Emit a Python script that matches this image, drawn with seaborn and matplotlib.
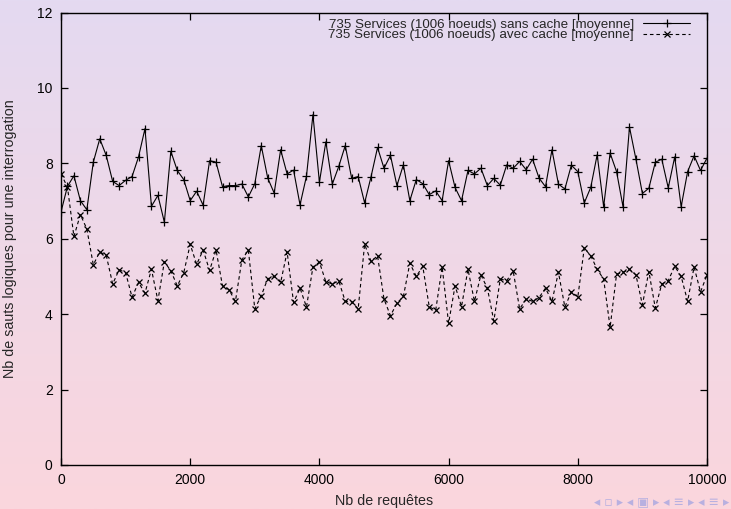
import numpy as np
import pandas as pd
import matplotlib
matplotlib.use("Agg")
import matplotlib.pyplot as plt
import seaborn as sns

requests = list(range(0, 10001, 100))

sans_cache = [
    6.71, 7.39, 7.67, 7.01, 6.77, 8.03, 8.65, 8.21, 7.52, 7.41,
    7.55, 7.65, 8.17, 8.92, 6.86, 7.15, 6.44, 8.32, 7.81, 7.57,
    7.01, 7.26, 6.89, 8.07, 8.03, 7.38, 7.41, 7.41, 7.45, 7.11,
    7.46, 8.47, 7.61, 7.21, 8.36, 7.72, 7.82, 6.90, 7.66, 9.29,
    7.50, 8.57, 7.45, 7.92, 8.47, 7.60, 7.65, 6.95, 7.65, 8.42,
    7.87, 8.21, 7.41, 7.96, 7.01, 7.57, 7.46, 7.17, 7.27, 7.01,
    8.07, 7.36, 7.01, 7.81, 7.72, 7.87, 7.41, 7.60, 7.42, 7.96,
    7.87, 8.05, 7.83, 8.11, 7.61, 7.38, 8.36, 7.45, 7.32, 7.95,
    7.78, 6.95, 7.36, 8.23, 6.85, 8.27, 7.78, 6.85, 8.96, 8.11,
    7.20, 7.34, 8.03, 8.11, 7.35, 8.17, 6.85, 7.78, 8.20, 7.81,
    8.14,
]

avec_cache = [
    7.72, 7.37, 6.06, 6.64, 6.26, 5.31, 5.65, 5.56, 4.80, 5.18,
    5.10, 4.45, 4.84, 4.56, 5.19, 4.36, 5.39, 5.15, 4.75, 5.10,
    5.85, 5.32, 5.70, 5.16, 5.70, 4.75, 4.65, 4.34, 5.44, 5.70,
    4.14, 4.49, 4.94, 5.00, 4.84, 5.65, 4.31, 4.69, 4.19, 5.25,
    5.38, 4.86, 4.80, 4.88, 4.34, 4.33, 4.14, 5.85, 5.40, 5.55,
    4.40, 3.96, 4.29, 4.47, 5.35, 5.00, 5.27, 4.20, 4.10, 5.25,
    3.76, 4.75, 4.20, 5.19, 4.34, 5.04, 4.69, 3.82, 4.93, 4.89,
    5.14, 4.14, 4.40, 4.34, 4.44, 4.69, 4.34, 5.11, 4.19, 4.59,
    4.45, 5.75, 5.55, 5.19, 4.93, 3.65, 5.06, 5.11, 5.19, 5.04,
    4.25, 5.13, 4.16, 4.80, 4.89, 5.27, 5.00, 4.34, 5.25, 4.59,
    5.04,
]

label_sans = "735 Services (1006 noeuds) sans cache [moyenne]"
label_avec = "735 Services (1006 noeuds) avec cache [moyenne]"
x_ticks = [0, 2000, 4000, 6000, 8000, 10000]
y_ticks = [0, 2, 4, 6, 8, 10, 12]

sns.set_style("ticks")
plt.rcParams["font.family"] = ["Liberation Sans", "DejaVu Sans"]

W, H = 731, 509
fig = plt.figure(figsize=(W / 100, H / 100), dpi=100)

# Beamer-like gradient background
bg = fig.add_axes([0, 0, 1, 1], zorder=-10)
top = np.array([228, 218, 241]) / 255.0
bot = np.array([251, 214, 221]) / 255.0
t = np.linspace(0, 1, 256)[:, None]
grad = (top[None, :] * (1 - t) + bot[None, :] * t)[:, None, :]
bg.imshow(grad, aspect="auto", extent=[0, 1, 0, 1], origin="upper")
bg.set_axis_off()

ax = fig.add_axes([61 / W, 44 / H, 646 / W, 452.5 / H])
ax.patch.set_alpha(0)

df1 = pd.DataFrame({"x": requests, "y": sans_cache})
df2 = pd.DataFrame({"x": requests, "y": avec_cache})
sns.lineplot(data=df1, x="x", y="y", ax=ax, color="black", linewidth=0.8,
             marker="+", markersize=5.5, markeredgewidth=0.9,
             markeredgecolor="black", label=label_sans)
sns.lineplot(data=df2, x="x", y="y", ax=ax, color="black", linewidth=0.8,
             linestyle=(0, (3.2, 2.6)), marker="x", markersize=4.3,
             markeredgewidth=0.9, markeredgecolor="black", label=label_avec)

ax.set_xlim(0, 10000)
ax.set_ylim(0, 12)
ax.set_xticks(x_ticks)
ax.set_yticks(y_ticks)
ax.tick_params(direction="in", length=5, width=0.9, top=True, right=True,
               labelsize=10, colors="black", pad=6)
for s in ax.spines.values():
    s.set_visible(True)
    s.set_linewidth(1.0)
    s.set_color("black")
ax.set_xlabel("Nb de requêtes", fontsize=10.3, labelpad=5)
ax.set_ylabel("Nb de sauts logiques pour une interrogation", fontsize=10.3)
ax.yaxis.set_label_coords(-0.068, 0.5)

fs_leg = 9.6
leg = ax.legend(loc="upper right", frameon=False, markerfirst=False,
                fontsize=fs_leg, handlelength=3.5, handletextpad=0.7,
                labelspacing=-0.14, borderpad=0, borderaxespad=0,
                bbox_to_anchor=(690 / W, 1 - 18.5 / H),
                bbox_transform=fig.transFigure)

# Beamer navigation symbols
fig.text(0.998, 0.002, "◂ ▫ ▸ ◂ ▣ ▸ ◂ ≡ ▸ ◂ ≡ ▸", ha="right", va="bottom",
         fontsize=9, color="#b8b0e0", family="DejaVu Sans")

fig.savefig("out.png", dpi=100)
